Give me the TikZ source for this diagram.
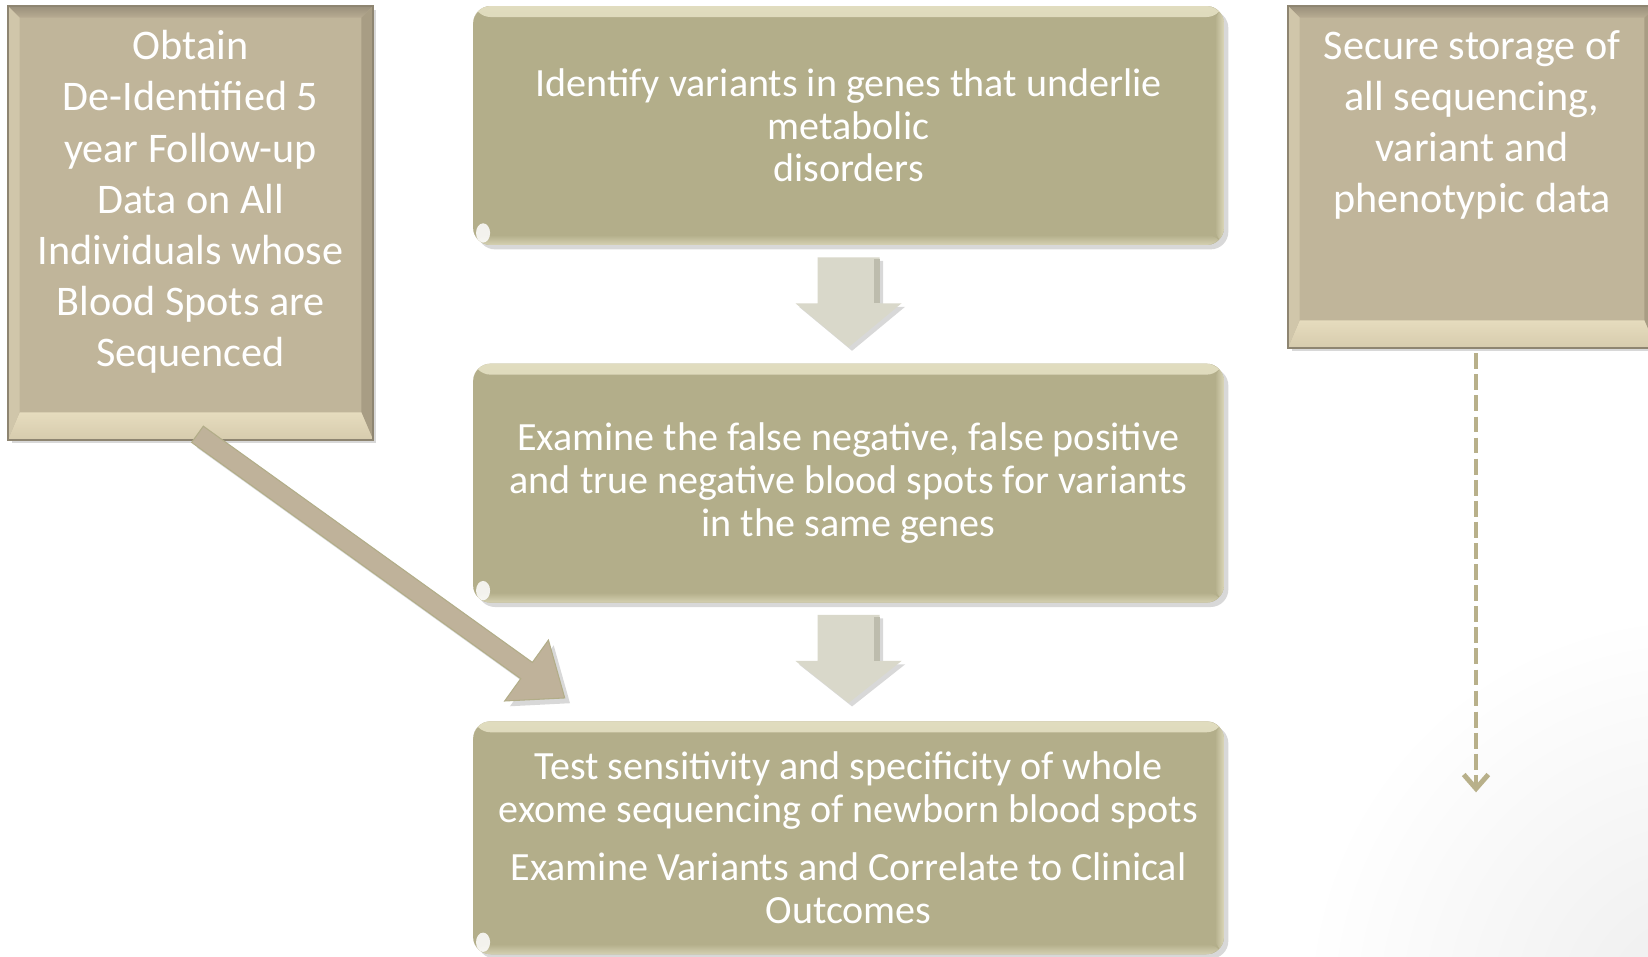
\documentclass[tikz,border=0pt]{standalone}
\usepackage{fontspec}
\setmainfont{Carlito}
\usepackage{xcolor}
\usetikzlibrary{calc,positioning,shadows,arrows.meta}

\definecolor{stepolive}{HTML}{B3AE8A}
\definecolor{glosscream}{HTML}{ECE8CC}
\definecolor{sidetan}{HTML}{C0B59A}
\definecolor{beveltop}{HTML}{998F7B}
\definecolor{beveltopin}{HTML}{B8AC92}
\definecolor{bevelright}{HTML}{A89D84}
\definecolor{bevelleft}{HTML}{D0C6AA}
\definecolor{bevelbotin}{HTML}{E6DCBE}
\definecolor{bevelbot}{HTML}{D6CBAD}
\definecolor{rimdark}{HTML}{8E8571}
\definecolor{flowgray}{HTML}{D9D8CA}
\definecolor{flowedge}{HTML}{BDBCAD}
\definecolor{pointertan}{HTML}{BFB29A}
\definecolor{pointeredge}{HTML}{B2AD88}
\definecolor{dashkhaki}{HTML}{B8B08A}

\newcommand{\bevelrim}[1]{%
	\shade[top color=beveltop, bottom color=beveltopin] (#1.north west) -- (#1.north east) -- ($(#1.north east)+(-12,12)$) -- ($(#1.north west)+(12,12)$) -- cycle;
	\fill[bevelright] (#1.north east) -- (#1.south east) -- ($(#1.south east)+(-12,-28)$) -- ($(#1.north east)+(-12,12)$) -- cycle;
	\shade[top color=bevelbotin, bottom color=bevelbot] (#1.south east) -- (#1.south west) -- ($(#1.south west)+(12,-28)$) -- ($(#1.south east)+(-12,-28)$) -- cycle;
	\fill[bevelleft] (#1.south west) -- (#1.north west) -- ($(#1.north west)+(12,12)$) -- ($(#1.south west)+(12,-28)$) -- cycle;
	\draw[rimdark, line width=1.2pt] (#1.north west) rectangle (#1.south east);
}

\tikzset{
	stepbox/.style={fill=stepolive, rounded corners=10pt, text=white, align=center,
		minimum width=15.02cm, minimum height=4.78cm, font=\fontsize{22.8}{24.3}\selectfont,
		drop shadow={opacity=.3, shadow xshift=2.5pt, shadow yshift=-2.5pt},
		path picture={
			\shade[top color=glosscream!80!stepolive, bottom color=stepolive] (path picture bounding box.north west) rectangle ($(path picture bounding box.north east)+(0,11)$);
			\shade[top color=stepolive, bottom color=glosscream!60!stepolive] ($(path picture bounding box.south west)+(0,-10)$) rectangle (path picture bounding box.south east);
			\shade[left color=stepolive, right color=glosscream!70!stepolive] ($(path picture bounding box.north east)+(-9,0)$) rectangle (path picture bounding box.south east);
			\fill[white, opacity=.85] ($(path picture bounding box.south west)+(10,-12)$) ellipse (4pt and 5.5pt);
		}},
	sidebox/.style={fill=sidetan, inner sep=0pt, text=white, font=\fontsize{24}{29.1}\selectfont,
		drop shadow={opacity=.3, shadow xshift=2pt, shadow yshift=-2pt}},
	flowdown/.style={fill=flowgray, drop shadow={opacity=.3, shadow xshift=2pt, shadow yshift=-2pt}},
	pointer/.style={fill=pointertan, draw=pointeredge, line width=.6pt,
		drop shadow={opacity=.3, shadow xshift=3pt, shadow yshift=-3pt}},
	dashflow/.style={dashkhaki, line width=2.8pt, dash pattern=on 9pt off 3pt,
		-{Straight Barb[length=8pt,width=14pt]}}
}

\begin{document}
\begin{tikzpicture}[x=0.02cm, y=-0.02cm]
	\useasboundingbox (0,0) rectangle (1648,956);
	\begin{scope}
		\clip (0,0) rectangle (1648,956);
		\fill[white] (0,0) rectangle (1648,956);
		\shade[inner color=black!7, outer color=white] (1700,1010) circle (8cm);
	\end{scope}

	\node[sidebox, minimum width=7.3cm, minimum height=8.68cm] (follow) at (190.5,223) {\parbox[c][7.7cm][t]{7.2cm}{\centering Obtain\\De-Identified 5\\year Follow-up\\Data on All\\Individuals whose\\Blood Spots are\\Sequenced}};
	\node[sidebox, minimum width=7.36cm, minimum height=6.84cm] (store) at (1472,177) {\parbox[c][5.86cm][t]{7.2cm}{\centering Secure storage of\\all sequencing,\\variant and\\phenotypic data}};
	\bevelrim{follow}
	\bevelrim{store}

	\node[stepbox] (identify) at (848.5,125.5) {Identify variants in genes that underlie\\metabolic\\disorders};
	\node[stepbox, below=2.36cm of identify] (examine) {Examine the false negative, false positive\\and true negative blood spots for variants\\in the same genes};
	\node[stepbox, minimum height=4.66cm, below=2.36cm of examine] (test) {Test sensitivity and specificity of whole\\exome sequencing of newborn blood spots\\[9pt]Examine Variants and Correlate to Clinical\\Outcomes};

	\fill[flowdown] ($(identify.south)+(-31,12)$) -- ($(identify.south)+(31,12)$) -- ($(identify.south)+(31,58)$) -- ($(identify.south)+(53,58)$) -- ($(examine.north)+(0,-16)$) -- ($(identify.south)+(-53,58)$) -- ($(identify.south)+(-31,58)$) -- cycle;
	\fill[flowedge] ($(identify.south)+(25,14)$) rectangle ($(identify.south)+(31,58)$);
	\fill[flowdown] ($(examine.south)+(-31,12)$) -- ($(examine.south)+(31,12)$) -- ($(examine.south)+(31,58)$) -- ($(examine.south)+(53,58)$) -- ($(test.north)+(0,-18)$) -- ($(examine.south)+(-53,58)$) -- ($(examine.south)+(-31,58)$) -- cycle;
	\fill[flowedge] ($(examine.south)+(25,14)$) rectangle ($(examine.south)+(31,58)$);

	\coordinate (pointerstart) at ($(follow.south)+(7,-6)$);
	\coordinate (pointerend) at ($(test.north west)+(92,-23)$);
	\coordinate (pointerbase) at ($(pointerend)!0.94cm!(pointerstart)$);
	\filldraw[pointer] ($(pointerstart)!0.2cm!90:(pointerend)$) -- ($(pointerbase)!0.2cm!90:(pointerend)$) -- ($(pointerbase)!0.75cm!90:(pointerend)$) -- (pointerend) -- ($(pointerbase)!0.75cm!-90:(pointerend)$) -- ($(pointerbase)!0.2cm!-90:(pointerend)$) -- ($(pointerstart)!0.2cm!-90:(pointerend)$) -- cycle;

	\coordinate (storeend) at ($(store.south)+(4,444)$);
	\draw[dashflow] ($(store.south)+(4,5)$) -- (storeend);
\end{tikzpicture}
\end{document}
